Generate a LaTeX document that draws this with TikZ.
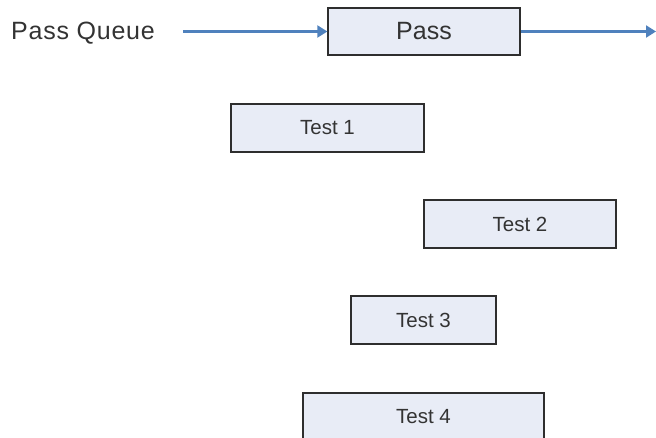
\documentclass[tikz,border=0pt]{standalone}
\usepackage{fontspec}
\setmainfont{Liberation Sans}
\usetikzlibrary{arrows.meta,shadows}
\definecolor{boxfill}{HTML}{E8ECF6}
\definecolor{boxline}{HTML}{2E2E2E}
\definecolor{flow}{HTML}{4F81BD}
\definecolor{txt}{HTML}{333333}
\tikzset{
  stagebox/.style={draw=boxline, line width=1.3pt, fill=boxfill,
    minimum height=48pt, inner sep=0pt, text=txt,
    drop shadow={shadow xshift=1.2pt, shadow yshift=-1.2pt, opacity=0.35, fill=black!60}},
  bigtext/.style={font=\fontsize{25}{28}\selectfont},
  smalltext/.style={font=\fontsize{20.5}{24}\selectfont},
  flowline/.style={draw=flow, line width=2.1pt, -{Triangle[length=10pt,width=12pt]}}
}
\begin{document}
\begin{tikzpicture}[x=1pt,y=-1pt]
  \useasboundingbox (0,0) rectangle (656,438);
  \clip (0,0) rectangle (656,438);

  % input label and the pass stage
  \node[bigtext, text=txt, anchor=base west, inner sep=0pt] (queue) at (11,40)
    {\addfontfeature{LetterSpace=3}Pass Queue};
  \node[stagebox, bigtext, minimum width=192pt, minimum height=47pt] (pass) at (424,31.5) {Pass};

  \coordinate (qstart) at (183,31.5);
  \coordinate (qend) at (656,31.5);
  \draw[flowline] (qstart) -- (pass.west);
  \draw[flowline] (pass.east) -- (qend);

  % test stages
  \node[stagebox, smalltext, minimum width=193pt] (t1) at (327.5,128) {Test 1};
  \node[stagebox, smalltext, minimum width=192pt] (t2) at (520,224) {Test 2};
  \node[stagebox, smalltext, minimum width=145pt] (t3) at (423.5,320) {Test 3};
  \node[stagebox, smalltext, minimum width=241pt] (t4) at (423.5,417) {Test 4};
\end{tikzpicture}
\end{document}
